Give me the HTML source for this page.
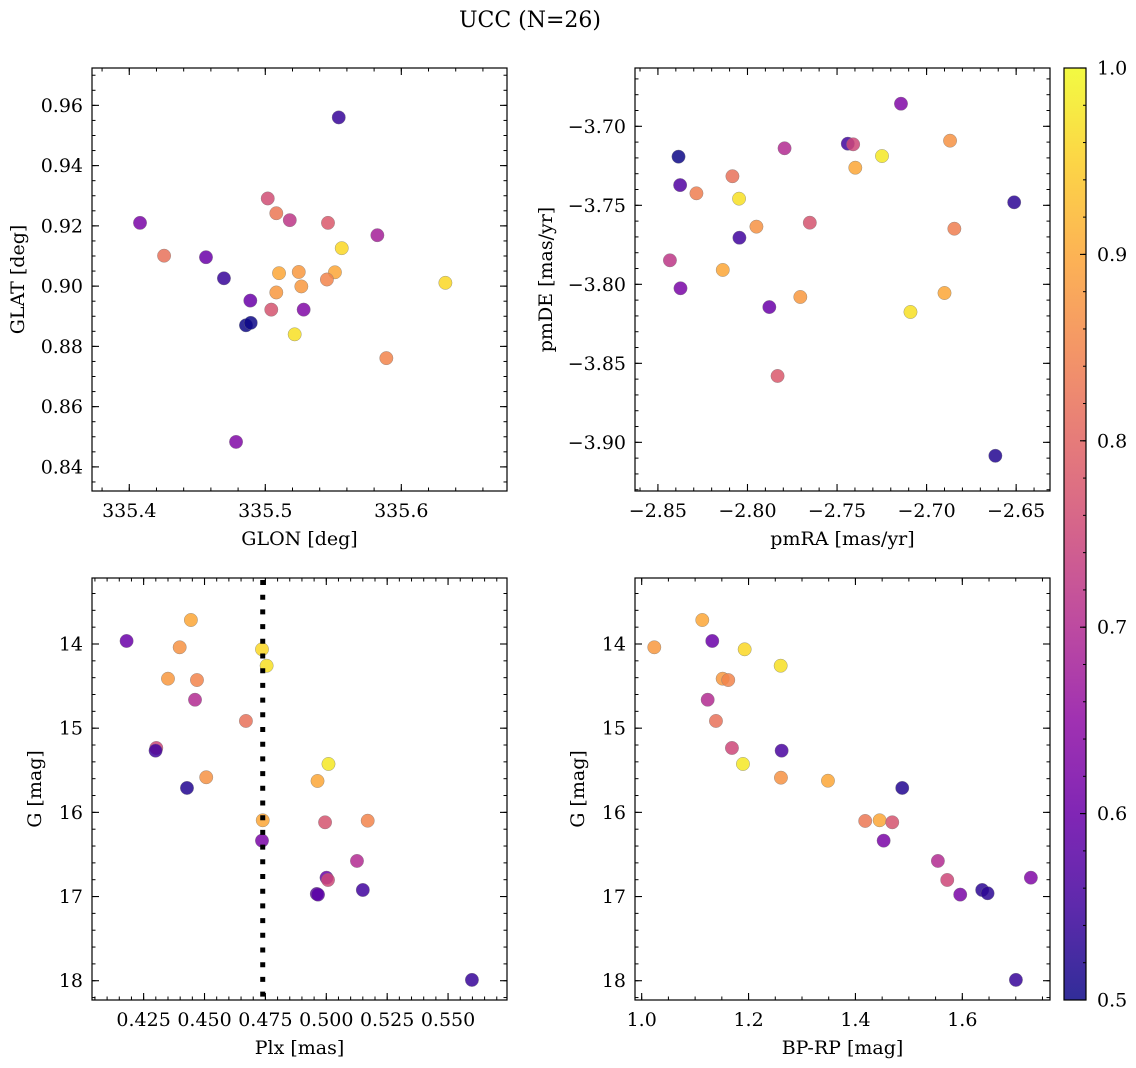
<!DOCTYPE html>
<html><head><meta charset="utf-8">
<style>
html,body{margin:0;padding:0;background:#fff;}
svg{display:block;font-family:"DejaVu Serif","Liberation Serif",serif;}
</style></head>
<body>
<svg id="fig" width="1136" height="1068" viewBox="0 0 1136 1068" xmlns="http://www.w3.org/2000/svg">
<text x="530" y="27" text-anchor="middle" font-size="22">UCC (N=26)</text>
</svg>
<script>
// ---- data arrays ----
const glon = [335.5540,335.4079,335.4256,335.4564,335.4696,335.4890,335.4858,335.4893,335.4785,335.5018,335.5081,335.5180,335.5461,335.5824,335.5562,335.5101,335.5246,335.5512,335.5453,335.5081,335.5265,335.5044,335.5282,335.5216,335.5890,335.6324];
const glat = [0.9560,0.9210,0.9101,0.9096,0.9026,0.8952,0.8870,0.8878,0.8483,0.9291,0.9242,0.9219,0.9210,0.9169,0.9126,0.9043,0.9047,0.9046,0.9022,0.8979,0.8999,0.8922,0.8922,0.8840,0.8761,0.9011];
const probTL = [0.54,0.62,0.82,0.6,0.54,0.6,0.5,0.5,0.63,0.76,0.83,0.72,0.78,0.68,0.96,0.9,0.88,0.9,0.85,0.88,0.88,0.77,0.63,0.97,0.85,0.96];

const pmra = [-2.7143,-2.8385,-2.8376,-2.8285,-2.8084,-2.8047,-2.7793,-2.7440,-2.7410,-2.7398,-2.7249,-2.6869,-2.6511,-2.6845,-2.7652,-2.7950,-2.8045,-2.8433,-2.8138,-2.8374,-2.7705,-2.7878,-2.6900,-2.7090,-2.7832,-2.6616];
const pmde = [-3.6857,-3.7192,-3.7372,-3.7424,-3.7316,-3.7458,-3.7139,-3.7110,-3.7114,-3.7262,-3.7188,-3.7091,-3.7481,-3.7648,-3.7610,-3.7635,-3.7705,-3.7848,-3.7909,-3.8025,-3.8080,-3.8144,-3.8055,-3.8175,-3.8580,-3.9085];
const probTR = [0.63,0.5,0.57,0.84,0.82,0.97,0.7,0.55,0.75,0.9,0.98,0.87,0.53,0.84,0.77,0.87,0.55,0.72,0.9,0.62,0.88,0.6,0.9,0.97,0.78,0.52];

const plx = [0.4444,0.4180,0.4398,0.4736,0.4755,0.4350,0.4469,0.4461,0.4670,0.4302,0.4299,0.4507,0.4428,0.5009,0.4964,0.4739,0.4995,0.5170,0.4736,0.5126,0.5001,0.5007,0.4961,0.4966,0.5150,0.5598];
const gmagBL = [13.715,13.964,14.039,14.063,14.258,14.412,14.428,14.662,14.914,15.235,15.267,15.583,15.710,15.425,15.627,16.094,16.118,16.099,16.336,16.577,16.776,16.803,16.969,16.977,16.922,17.990];
const probBL = [0.9,0.6,0.87,0.96,0.97,0.88,0.85,0.7,0.82,0.75,0.55,0.87,0.52,0.98,0.9,0.9,0.77,0.85,0.62,0.7,0.6,0.75,0.58,0.58,0.55,0.54];
const plxRef = [0.4739];

const bprp = [1.1134,1.0236,1.1321,1.1927,1.2601,1.1515,1.1620,1.1235,1.1390,1.1689,1.2619,1.1895,1.2606,1.3486,1.4876,1.4183,1.4453,1.4689,1.4528,1.5543,1.5718,1.5961,1.6372,1.6473,1.7283,1.7003];
const gmagBR = [13.715,14.039,13.964,14.063,14.258,14.412,14.428,14.662,14.914,15.235,15.267,15.425,15.588,15.624,15.710,16.102,16.094,16.118,16.336,16.577,16.803,16.977,16.922,16.961,16.776,17.990];
const probBR = [0.9,0.88,0.6,0.96,0.97,0.88,0.85,0.7,0.82,0.75,0.56,0.98,0.87,0.9,0.52,0.83,0.9,0.77,0.62,0.7,0.75,0.62,0.53,0.53,0.63,0.54];

const ticksTLx = [335.4,335.5,335.6];
const ticksTLy = [0.84,0.86,0.88,0.90,0.92,0.94,0.96];
const ticksTRx = [-2.85,-2.80,-2.75,-2.70,-2.65];
const ticksTRy = [-3.90,-3.85,-3.80,-3.75,-3.70];
const ticksBLx = [0.425,0.450,0.475,0.500,0.525,0.550];
const ticksGy = [14,15,16,17,18];
const ticksBRx = [1.0,1.2,1.4,1.6];
const ticksCbar = [0.5,0.6,0.7,0.8,0.9,1.0];

const FS = 19;
const NS = "http://www.w3.org/2000/svg";
const svg = document.getElementById('fig');
function mk(tag, attrs, parent){const e=document.createElementNS(NS,tag);for(const k in attrs)e.setAttribute(k,attrs[k]);(parent||svg).appendChild(e);return e;}
const plasma=[[13,8,135],[65,4,157],[106,0,168],[143,13,164],[177,42,144],[204,71,120],[225,100,98],[242,132,75],[252,166,54],[252,206,37],[240,249,33]];
function cmap(t){t=Math.max(0,Math.min(1,t));const f=t*10;const i=Math.min(9,Math.floor(f));const u=f-i;const a=plasma[i],b=plasma[i+1];
 return 'rgb('+a.map((v,k)=>Math.round(v+(b[k]-v)*u)).join(',')+')';}
function pcol(p){return cmap((p-0.5)/0.5);}
function fmtMinus(s){return s.replace('-','\u2212');}

function panel(o){
 const g=mk('g',{});
 
 
 const sx=v=>o.x0+(v-o.xd[0])/(o.xd[1]-o.xd[0])*(o.x1-o.x0);
 const sy=o.invert ? (v=>o.y0+(v-o.yd[0])/(o.yd[1]-o.yd[0])*(o.y1-o.y0))
                   : (v=>o.y1-(v-o.yd[0])/(o.yd[1]-o.yd[0])*(o.y1-o.y0));
 const mt=mk('g',{stroke:'#000','stroke-width':1},g);
 
 
 const lo=Math.min(...o.xd),hi=Math.max(...o.xd);
 for(let v=Math.ceil(lo/o.xm-1e-9)*o.xm;v<=hi+1e-9;v+=o.xm){const x=sx(v);
  mk('line',{x1:x,x2:x,y1:o.y1,y2:o.y1-3.5},mt);mk('line',{x1:x,x2:x,y1:o.y0,y2:o.y0+3.5},mt);}
 const ylo=Math.min(...o.yd),yhi=Math.max(...o.yd);
 for(let v=Math.ceil(ylo/o.ym-1e-9)*o.ym;v<=yhi+1e-9;v+=o.ym){const y=sy(v);
  mk('line',{x1:o.x0,x2:o.x0+3.5,y1:y,y2:y},mt);mk('line',{x1:o.x1,x2:o.x1-3.5,y1:y,y2:y},mt);}
 o.xt.forEach(v=>{const x=sx(v);
  mk('line',{x1:x,x2:x,y1:o.y1,y2:o.y1-7,stroke:'#000','stroke-width':1.1},g);
  mk('line',{x1:x,x2:x,y1:o.y0,y2:o.y0+7,stroke:'#000','stroke-width':1.1},g);
  const t=mk('text',{x:x,y:o.y1+26,'text-anchor':'middle','font-size':FS},g);
  
  
  t.textContent=fmtMinus(v.toFixed(o.xdec));});
 o.yt.forEach(v=>{const y=sy(v);
  mk('line',{x1:o.x0,x2:o.x0+7,y1:y,y2:y,stroke:'#000','stroke-width':1.1},g);
  mk('line',{x1:o.x1,x2:o.x1-7,y1:y,y2:y,stroke:'#000','stroke-width':1.1},g);
  const t=mk('text',{x:o.x0-9,y:y+6.5,'text-anchor':'end','font-size':FS},g);
  
  
  t.textContent=fmtMinus(v.toFixed(o.ydec));});
 const xl=mk('text',{x:(o.x0+o.x1)/2,y:o.y1+54,'text-anchor':'middle','font-size':FS},g);
 
 
 xl.textContent=o.xlabel;
 const yx=o.ylx, yy=(o.y0+o.y1)/2;
 const yl=mk('text',{x:yx,y:yy,'text-anchor':'middle','font-size':FS,transform:'rotate(-90 '+yx+' '+yy+')'},g);
 
 
 yl.textContent=o.ylabel;
 const cid='clip-'+o.name;
 const cp=mk('clipPath',{id:cid,clipPathUnits:'userSpaceOnUse'},g);mk('rect',{x:o.x0,y:o.y0,width:o.x1-o.x0,height:o.y1-o.y0},cp);
 const pg=mk('g',{'clip-path':'url(#'+cid+')'},g);
 o.xs.forEach((xv,i)=>{
  const c=mk('circle',{cx:sx(xv),cy:sy(o.ys[i]),r:6.7,fill:pcol(o.ps[i]),'fill-opacity':0.85,stroke:'#777','stroke-width':0.5,'stroke-opacity':0.7},pg);
  
  
 });
 if(o.vline){o.vline.forEach(v=>{const l=mk('line',{x1:sx(v),x2:sx(v),y1:o.y0+2,y2:o.y1,stroke:'#000','stroke-width':5,'stroke-dasharray':'5 9.7'},g);
  
  });}
 mk('rect',{x:o.x0,y:o.y0,width:o.x1-o.x0,height:o.y1-o.y0,fill:'none',stroke:'#000','stroke-width':1.2},g);
}

panel({name:'panel-glon-glat',x0:92,x1:507,y0:68,y1:491,xd:[335.3726,335.6777],yd:[0.8320,0.9724],
 xt:ticksTLx,yt:ticksTLy,xm:0.02,ym:0.005,xdec:1,ydec:2,xs:glon,ys:glat,ps:probTL,xlabel:'GLON [deg]',ylabel:'GLAT [deg]',ylx:24});
panel({name:'panel-pmra-pmde',x0:635,x1:1050,y0:68,y1:491,xd:[-2.8628,-2.6311],yd:[-3.9308,-3.6631],
 xt:ticksTRx,yt:ticksTRy,xm:0.01,ym:0.01,xdec:2,ydec:2,xs:pmra,ys:pmde,ps:probTR,xlabel:'pmRA [mas/yr]',ylabel:'pmDE [mas/yr]',ylx:552});
panel({name:'panel-plx-g',x0:92,x1:507,y0:578,y1:1000,xd:[0.4038,0.5742],yd:[13.216,18.229],invert:true,
 xt:ticksBLx,yt:ticksGy,xm:0.005,ym:0.2,xdec:3,ydec:0,xs:plx,ys:gmagBL,ps:probBL,xlabel:'Plx [mas]',ylabel:'G [mag]',ylx:41,vline:plxRef});
panel({name:'panel-bprp-g',x0:635,x1:1050,y0:578,y1:1000,xd:[0.9875,1.7641],yd:[13.216,18.229],invert:true,
 xt:ticksBRx,yt:ticksGy,xm:0.05,ym:0.2,xdec:1,ydec:0,xs:bprp,ys:gmagBR,ps:probBR,xlabel:'BP-RP [mag]',ylabel:'G [mag]',ylx:584});

// ---- colorbar ----
(function(){
 const cx0=1064,cx1=1086,cy0=68,cy1=1000;
 const defs=mk('defs',{});
 const lg=mk('linearGradient',{id:'plasmaGrad',x1:0,y1:1,x2:0,y2:0},defs);
 for(let i=0;i<=20;i++){mk('stop',{offset:(i/20),'stop-color':cmap(i/20),'stop-opacity':0.85},lg);}
 const g=mk('g',{});
 
 
 mk('rect',{x:cx0,y:cy0,width:cx1-cx0,height:cy1-cy0,fill:'url(#plasmaGrad)'},g);
 const sy=v=>cy1-(v-0.5)/0.5*(cy1-cy0);
 for(let v=0.5;v<=1.0001;v+=0.02){mk('line',{x1:cx1,x2:cx1-3,y1:sy(v),y2:sy(v),stroke:'#000','stroke-width':1},g);}
 ticksCbar.forEach(v=>{
  mk('line',{x1:cx1,x2:cx1-6,y1:sy(v),y2:sy(v),stroke:'#000','stroke-width':1.1},g);
  const t=mk('text',{x:cx1+11,y:sy(v)+6.5,'font-size':FS},g);
  
  
  t.textContent=v.toFixed(1);
 });
 mk('rect',{x:cx0,y:cy0,width:cx1-cx0,height:cy1-cy0,fill:'none',stroke:'#000','stroke-width':1.2},g);
})();
</script>
</body></html>
